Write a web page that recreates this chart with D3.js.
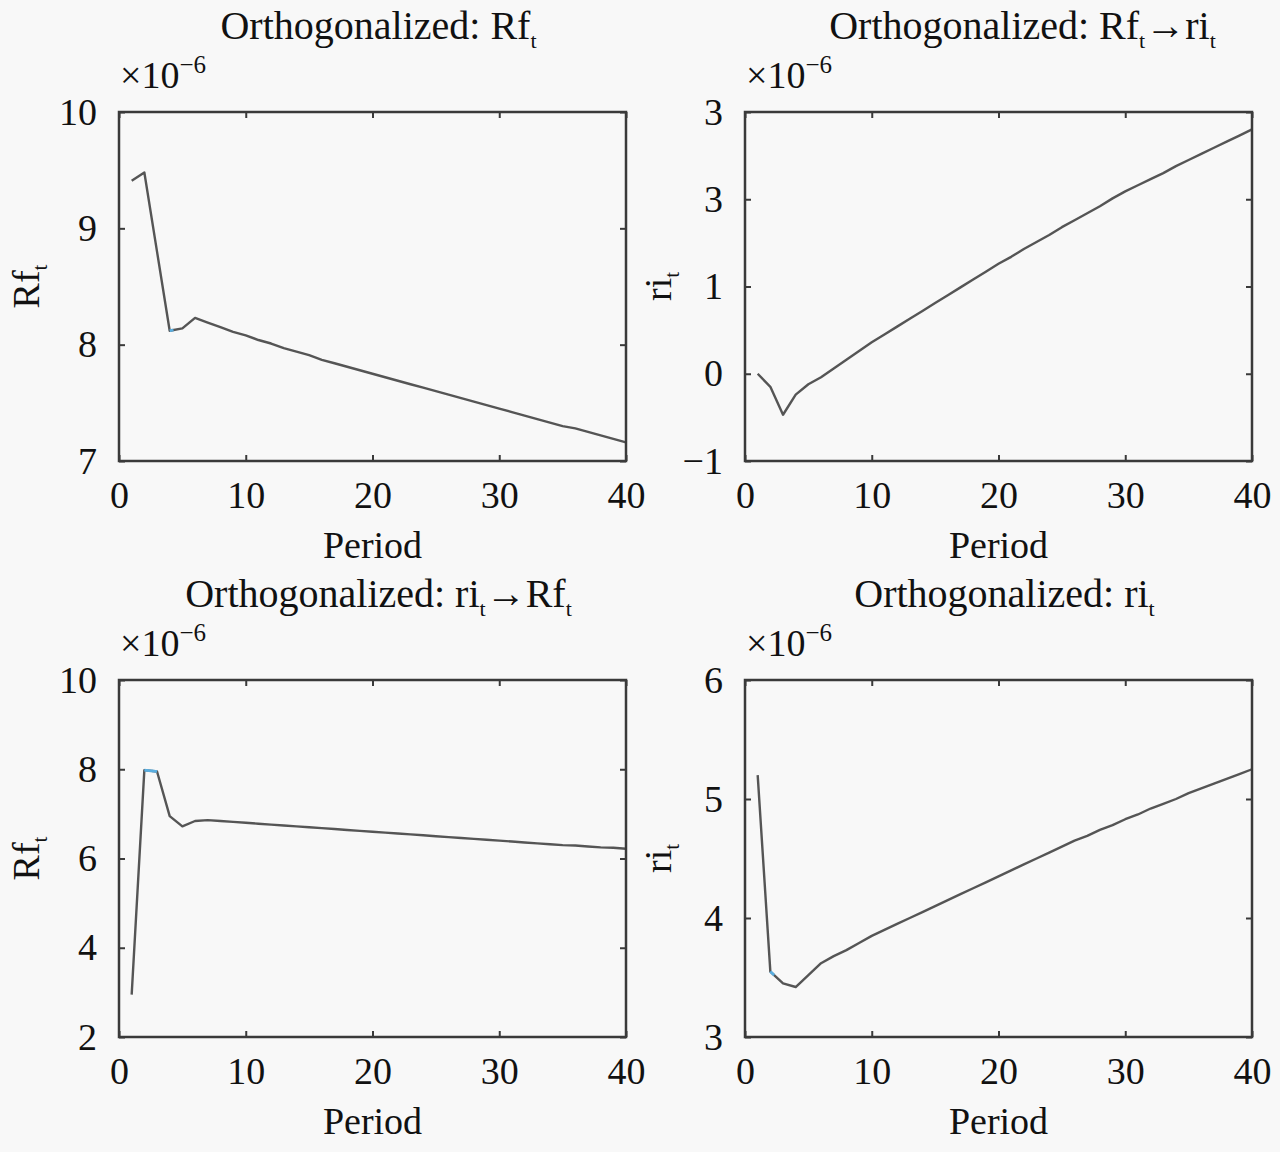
<!DOCTYPE html>
<html>
<head>
<meta charset="utf-8">
<script src="https://cdn.jsdelivr.net/npm/d3@7"></script>
<style>
  body { margin: 0; background: #f8f8f8; }
  svg { display: block; font-family: "Liberation Serif", "Times New Roman", serif; }
</style>
</head>
<body>
<svg width="1280" height="1152"></svg>
<script>
// impulse responses, values in units of 1e-6, periods 1..40
const periods = d3.range(1, 41);

const rfToRf = [9.41, 9.48, 8.80, 8.12, 8.14, 8.23, 8.19, 8.15, 8.11, 8.08,
                8.04, 8.01, 7.97, 7.94, 7.91, 7.87, 7.84, 7.81, 7.78, 7.75,
                7.72, 7.69, 7.66, 7.63, 7.60, 7.57, 7.54, 7.51, 7.48, 7.45,
                7.42, 7.39, 7.36, 7.33, 7.30, 7.28, 7.25, 7.22, 7.19, 7.16];

const rfToRi = [0.00, -0.15, -0.47, -0.24, -0.12, -0.04, 0.06, 0.16, 0.26, 0.36,
                0.45, 0.54, 0.63, 0.72, 0.81, 0.90, 0.99, 1.08, 1.17, 1.26,
                1.34, 1.43, 1.51, 1.59, 1.68, 1.76, 1.84, 1.92, 2.01, 2.09,
                2.16, 2.23, 2.30, 2.38, 2.45, 2.52, 2.59, 2.66, 2.73, 2.80];

const riToRf = [2.95, 7.98, 7.95, 6.95, 6.72, 6.84, 6.86, 6.84, 6.82, 6.80,
                6.78, 6.76, 6.74, 6.72, 6.70, 6.68, 6.66, 6.64, 6.62, 6.60,
                6.58, 6.56, 6.54, 6.52, 6.50, 6.48, 6.46, 6.44, 6.42, 6.40,
                6.38, 6.36, 6.34, 6.32, 6.30, 6.29, 6.27, 6.25, 6.24, 6.22];

const riToRi = [5.20, 3.55, 3.45, 3.42, 3.52, 3.62, 3.68, 3.73, 3.79, 3.85,
                3.90, 3.95, 4.00, 4.05, 4.10, 4.15, 4.20, 4.25, 4.30, 4.35,
                4.40, 4.45, 4.50, 4.55, 4.60, 4.65, 4.69, 4.74, 4.78, 4.83,
                4.87, 4.92, 4.96, 5.00, 5.05, 5.09, 5.13, 5.17, 5.21, 5.25];

const xTicks = [0, 10, 20, 30, 40];

const rfTicks = [7, 8, 9, 10];
const rfTickLabels = ["7", "8", "9", "10"];
const rfRiTicks = [-1, 0, 1, 2, 3];
const rfRiTickLabels = ["\u22121", "0", "1", "3", "3"];   // as printed in the figure
const riRfTicks = [2, 4, 6, 8, 10];
const riRfTickLabels = ["2", "4", "6", "8", "10"];
const riTicks = [3, 4, 5, 6];
const riTickLabels = ["3", "4", "5", "6"];

const panels = [
  { title: "Orthogonalized: Rf_t", ylabel: "Rf_t", values: rfToRf,
    ticks: rfTicks, labels: rfTickLabels, col: 0, row: 0, hi: [4, 4.3] },
  { title: "Orthogonalized: Rf_t\u2192ri_t", ylabel: "ri_t", values: rfToRi,
    ticks: rfRiTicks, labels: rfRiTickLabels, col: 1, row: 0, tshift: 18 },
  { title: "Orthogonalized: ri_t\u2192Rf_t", ylabel: "Rf_t", values: riToRf,
    ticks: riRfTicks, labels: riRfTickLabels, col: 0, row: 1, hi: [2, 3] },
  { title: "Orthogonalized: ri_t", ylabel: "ri_t", values: riToRi,
    ticks: riTicks, labels: riTickLabels, col: 1, row: 1, hi: [2, 2.3] }
];

const svg = d3.select("svg");
const colX = [119, 745], rowY = [112, 680], rowH = [349, 357];
const pw = 507;
const axisColor = "#3a3a3a";
const fs = 38;

// writes "a_b" as a with subscript b
function richText(sel, str, size) {
  let back = 0;
  str.split(/(_.)/).filter(s => s).forEach(part => {
    if (part[0] === "_") {
      sel.append("tspan").attr("font-size", size * 0.55).attr("dy", size * 0.22).text(part[1]);
      back = -size * 0.22;
    } else {
      sel.append("tspan").attr("dy", back).text(part);
      back = 0;
    }
  });
}

panels.forEach(p => {
  const ph = rowH[p.row];
  const g = svg.append("g").attr("transform", `translate(${colX[p.col]},${rowY[p.row]})`);

  const x = d3.scaleLinear().domain([0, 40]).range([0, pw]);
  const y = d3.scaleLinear().domain(d3.extent(p.ticks)).range([ph, 0]);

  const styleAxis = a => {
    a.select(".domain").remove();
    a.selectAll("line").attr("stroke", axisColor).attr("stroke-width", 2);
    a.selectAll("text").attr("fill", "#111").attr("font-size", fs)
      .attr("font-family", "Liberation Serif, Times New Roman, serif");
  };

  g.append("g").attr("transform", `translate(0,${ph})`)
    .call(d3.axisBottom(x).tickValues(xTicks).tickSizeInner(-6).tickSizeOuter(0).tickPadding(20))
    .call(styleAxis);
  g.append("g")
    .call(d3.axisTop(x).tickValues(xTicks).tickSizeInner(-6).tickSizeOuter(0).tickFormat(""))
    .call(styleAxis);
  g.append("g")
    .call(d3.axisLeft(y).tickValues(p.ticks).tickFormat((d, i) => p.labels[i])
      .tickSizeInner(-6).tickSizeOuter(0).tickPadding(22))
    .call(styleAxis);
  g.append("g").attr("transform", `translate(${pw},0)`)
    .call(d3.axisRight(y).tickValues(p.ticks).tickSizeInner(-6).tickSizeOuter(0).tickFormat(""))
    .call(styleAxis);

  const line = d3.line().x((d, i) => x(periods[i])).y(d => y(d));

  g.append("path").datum(p.values)
    .attr("fill", "none").attr("stroke", "#555").attr("stroke-width", 2.4)
    .attr("stroke-linejoin", "round").attr("d", line);

  if (p.hi) {
    // short stretches where the blue response line shows through
    const seg = d3.range(p.hi[0], p.hi[1] + 0.001, 0.05).map(t => {
      const i = Math.min(Math.floor(t) - 1, p.values.length - 2);
      const f = t - periods[i];
      return [t, p.values[i] + (p.values[i + 1] - p.values[i]) * f];
    });
    g.append("path").datum(seg)
      .attr("fill", "none").attr("stroke", "#5aaee0").attr("stroke-width", 2.8)
      .attr("d", d3.line().x(d => x(d[0])).y(d => y(d[1])));
  }

  g.append("rect").attr("width", pw).attr("height", ph)
    .attr("fill", "none").attr("stroke", axisColor).attr("stroke-width", 2.5);

  // title
  const t = g.append("text").attr("x", pw / 2 + 6 + (p.tshift || 0)).attr("y", -73)
    .attr("text-anchor", "middle").attr("font-size", 40).attr("fill", "#111");
  richText(t, p.title, 40);

  // exponent label
  const e = g.append("text").attr("x", 1).attr("y", -24).attr("font-size", 38).attr("fill", "#111");
  e.append("tspan").text("\u00d710");
  e.append("tspan").attr("font-size", 25).attr("dy", -15).text("\u22126");

  // x label
  g.append("text").attr("x", pw / 2).attr("y", ph + 97).attr("text-anchor", "middle")
    .attr("font-size", fs).attr("fill", "#111").text("Period");

  // y label
  const yl = g.append("text")
    .attr("transform", `translate(${p.col === 0 ? -80 : -74},${ph / 2}) rotate(-90)`)
    .attr("text-anchor", "middle").attr("font-size", fs).attr("fill", "#111");
  richText(yl, p.ylabel, fs);
});
</script>
</body>
</html>
